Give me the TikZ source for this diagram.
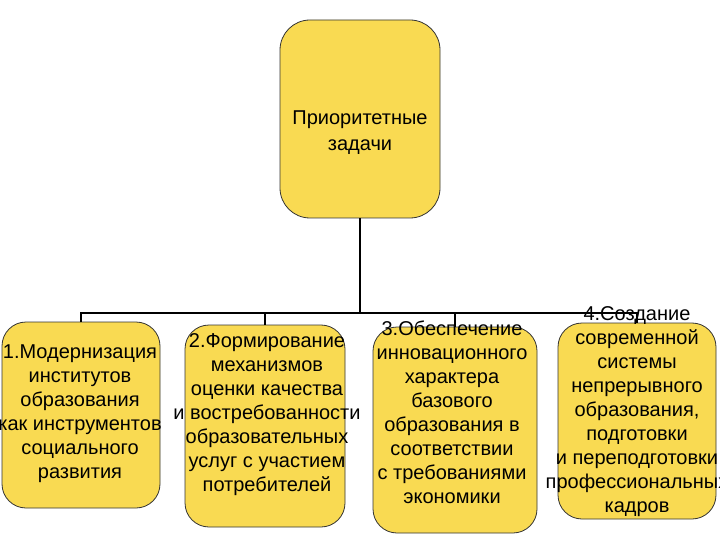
\documentclass[tikz,border=0pt]{standalone}
\usepackage{fontspec}
\setmainfont{Liberation Sans}
\definecolor{boxyellow}{RGB}{249,218,82}
\tikzset{
  % rounded yellow box, text is placed on its own
  taskbox/.style={draw=black!80,line width=0.8pt,fill=boxyellow,
    rounded corners=24pt,inner sep=0pt},
  tasktext/.style={align=center,inner sep=0pt,
    font=\fontsize{20}{24}\selectfont},
  link/.style={black,line width=1.6pt},
}
\begin{document}
\begin{tikzpicture}[x=1pt,y=-1pt]
\useasboundingbox (0,0) rectangle (720,540);
\coordinate (bus) at (360,313);
\node[taskbox,rounded corners=30pt,minimum width=160,minimum height=198] (top) at (360,119) {};
\node[taskbox,minimum width=158,minimum height=186] (b1) at (81,415) {};
\node[taskbox,minimum width=160,minimum height=202] (b2) at (265,426) {};
\node[taskbox,minimum width=164,minimum height=206] (b3) at (455,430) {};
\node[taskbox,minimum width=158,minimum height=196] (b4) at (637,421) {};
\draw[link] (top.south) -- (bus);
\draw[link] (b1.north) -- (b1.north |- bus) -- (b4.north |- bus) -- (b4.north);
\draw[link] (b2.north) -- (b2.north |- bus);
\draw[link] (b3.north) -- (b3.north |- bus);
\node[tasktext,font=\fontsize{20}{26}\selectfont] (ttop) at (360,133) {Приоритетные\\задачи};
\node[tasktext] (t1) at (80,414) {1.Модернизация\\институтов\\образования\\как инструментов\\социального\\развития};
\node[tasktext] (t2) at (267,415) {2.Формирование\\механизмов\\оценки качества\\и востребованности\\образовательных\\услуг с участием\\потребителей};
\node[tasktext] (t3) at (452,412) {3.Обеспечение\\инновационного\\характера\\базового\\образования в\\соответствии\\с требованиями\\экономики};
\node[tasktext] (t4) at (637,412) {4.Создание\\современной\\системы\\непрерывного\\образования,\\подготовки\\и переподготовки\\профессиональных\\кадров};
\end{tikzpicture}
\end{document}
